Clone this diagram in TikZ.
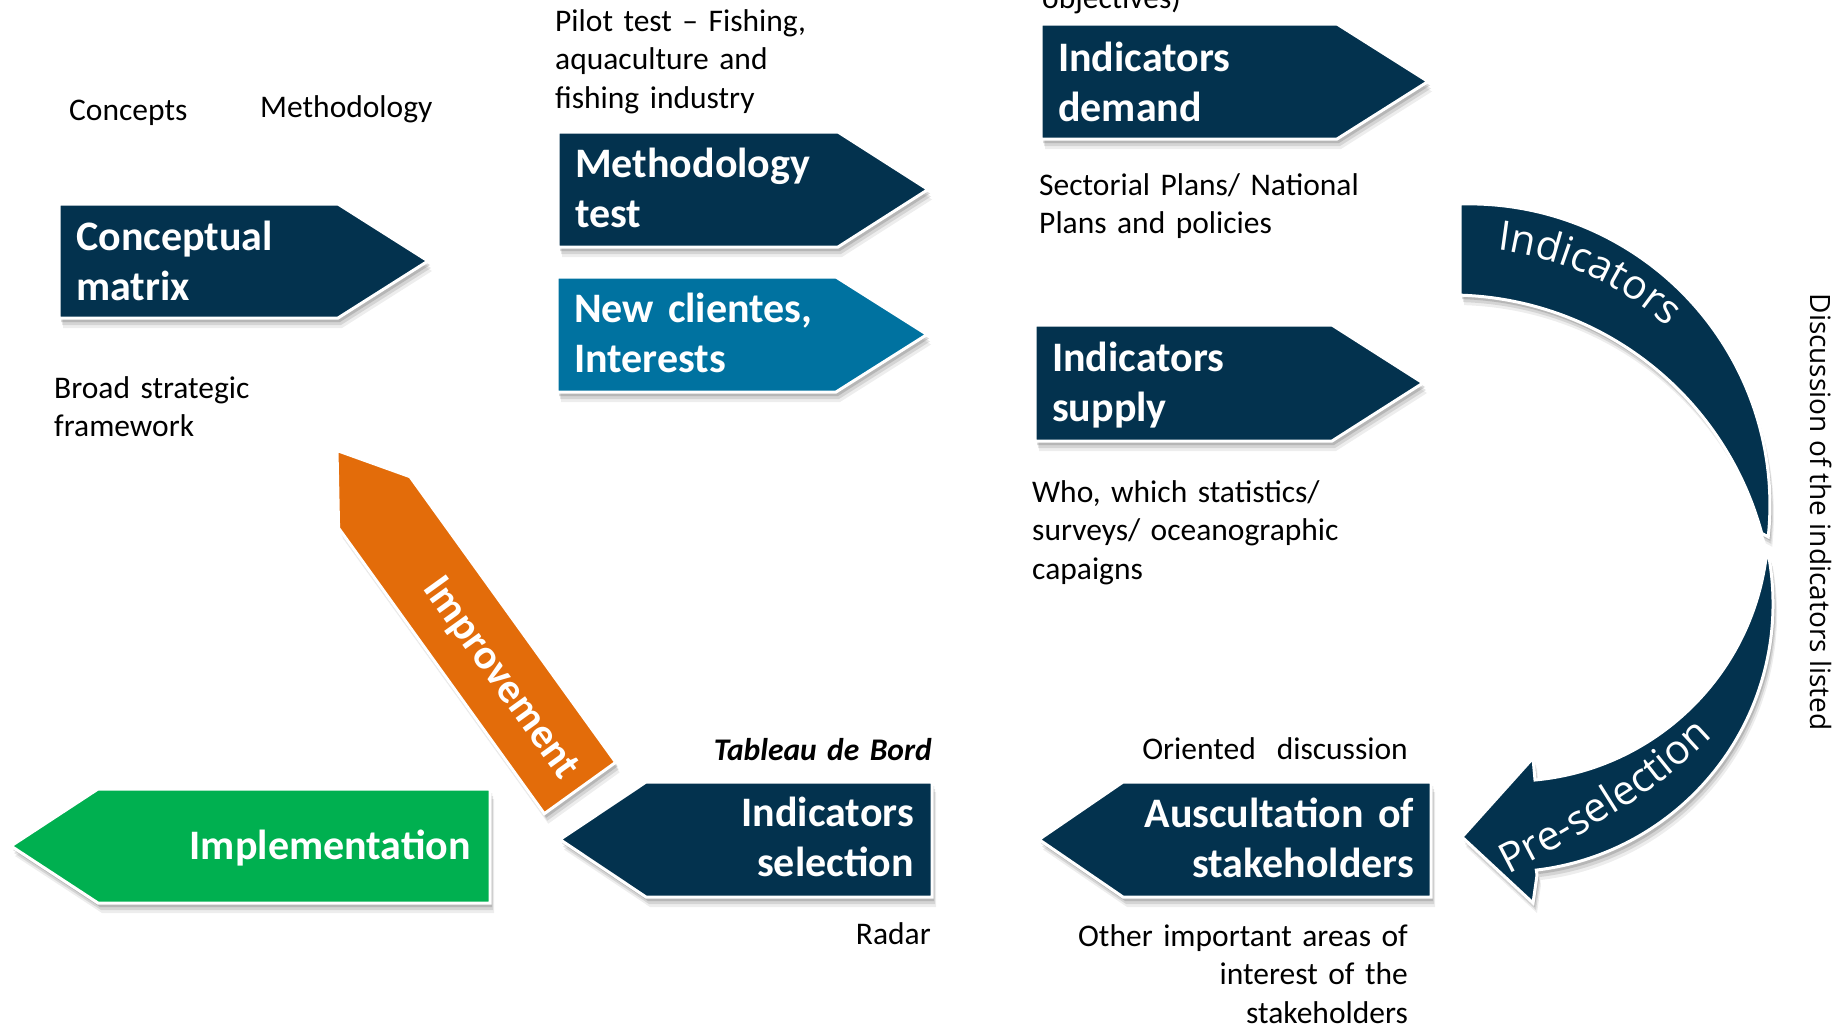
\documentclass[tikz,border=0pt]{standalone}
\usepackage{fontspec}
\setmainfont{Carlito}
\newfontfamily\osans{Open Sans}
\usetikzlibrary{shadows,decorations.text}
\definecolor{cNavy}{RGB}{3,50,78}
\definecolor{cTeal}{RGB}{0,114,160}
\definecolor{cOrange}{RGB}{227,108,10}
\definecolor{cGreen}{RGB}{0,176,80}
% right-pointing block arrow: left, top, bottom, shoulder, tip, colour
\newcommand\rArrowShape[6]{%
  \path[shp, fill=#6] (#1,#2) -- (#4,#2) -- (#5,{(#2+#3)/2}) -- (#4,#3) -- (#1,#3) -- cycle;}
% left-pointing block arrow: tip, top, bottom, shoulder, right, colour
\newcommand\lArrowShape[6]{%
  \path[shp, fill=#6] (#5,#2) -- (#4,#2) -- (#1,{(#2+#3)/2}) -- (#4,#3) -- (#5,#3) -- cycle;}
\begin{document}
\begin{tikzpicture}[x=1pt,y=-1pt,
  shp/.style={draw=white, line width=3pt, line join=miter,
    drop shadow={shadow xshift=4pt, shadow yshift=-10pt, fill=black, opacity=0.07},
    drop shadow={shadow xshift=3pt, shadow yshift=-7pt, fill=black, opacity=0.10},
    drop shadow={shadow xshift=2pt, shadow yshift=-4pt, fill=black, opacity=0.14}},
  ttl/.style={text=white, font=\fontsize{42}{50}\selectfont\bfseries, inner sep=0pt, text width=380pt},
  lbl/.style={text=black, font=\fontsize{31.5}{38.5}\selectfont, inner sep=0pt, text width=420pt},
  arctext/.style={decorate, decoration={text along path, text={|\osans\fontsize{41}{41}\selectfont\color{white}|#1}}}
]
\useasboundingbox (0,0) rectangle (1841,1028);
\fill[white] (0,0) rectangle (1841,1028);
\clip (0,0) rectangle (1841,1028);

% block arrows
\rArrowShape{59}{204}{318}{338}{428}{cNavy}
\rArrowShape{558}{132}{247}{838}{928}{cNavy}
\rArrowShape{557}{277}{392}{836}{927}{cTeal}
\rArrowShape{1041}{24}{139}{1337}{1428}{cNavy}
\rArrowShape{1035}{325}{441}{1332}{1423}{cNavy}
\lArrowShape{11}{789}{903}{98}{490}{cGreen}
\lArrowShape{560}{782}{897}{646}{932}{cNavy}
\lArrowShape{1039}{782}{897}{1123}{1431}{cNavy}

% orange improvement arrow
\path[shp, fill=cOrange] (337,450.5) -- (410,476.7) -- (615.7,762.3) -- (544.3,813.7) -- (338.6,528.1) -- cycle;

% curved pieces
\path[shp, fill=cNavy] (1460,204) arc[start angle=-91.7, end angle=6.1, radius=301]
  -- (1761.7,533.3) arc[start angle=-15.2, end angle=-88.2, radius=323] -- cycle;
\path[shp, fill=cNavy] (1537,875) -- (1533,903) -- (1462,837) -- (1533,758) -- (1535,780)
  arc[start angle=84.7, end angle=7.4, radius=257]
  -- (1768.7,556) arc[start angle=-10.3, end angle=83.3, radius=268] -- cycle;

% curved texts
\path[arctext=Indicators] (1497,250) arc[start angle=-83.2, end angle=-20, radius=309];
\path[arctext=Pre-selection] plot[smooth] coordinates {(1508,874) (1563,845) (1607,818) (1650,790) (1690,758) (1725,725) (1765,680)};

% titles
\node[ttl, anchor=base west, align=left] (tcm) at (76,250) {Conceptual\\matrix};
\node[ttl, anchor=base west, align=left] (tmt) at (575,177) {Methodology\\test};
\node[ttl, anchor=base west, align=left] (tnc) at (574,322) {New clientes,\\Interests};
\node[ttl, anchor=base west, align=left] (tid) at (1058,71) {Indicators\\demand};
\node[ttl, anchor=base west, align=left] (tis) at (1052,371) {Indicators\\supply};
\node[ttl, anchor=base east, align=right] (tim) at (471,859) {Implementation};
\node[ttl, anchor=base east, align=right] (tsel) at (914,826) {Indicators\\selection};
\node[ttl, anchor=base east, align=right] (taus) at (1414,827) {Auscultation of\\stakeholders};
\node[text=white, font=\fontsize{42}{50}\selectfont\bfseries, rotate=-54.2, inner sep=0pt] (timp) at (500,679) {Improvement};

% labels
\node[lbl, anchor=base west, align=left] (lobj) at (1042,8) {objectives)};
\node[lbl, anchor=base west, align=left] (lconc) at (69,120) {Concepts};
\node[lbl, anchor=base west, align=left] (lmeth) at (260,117) {Methodology};
\node[lbl, anchor=base west, align=left] (lpil) at (555,31) {Pilot test – Fishing,\\aquaculture and\\fishing industry};
\node[lbl, anchor=base west, align=left] (lbro) at (54,398) {Broad strategic\\framework};
\node[lbl, anchor=base west, align=left] (lsec) at (1039,195) {Sectorial Plans/ National\\Plans and policies};
\node[lbl, anchor=base west, align=left] (lwho) at (1032,502) {Who, which statistics/\\surveys/ oceanographic\\capaigns};
\node[lbl, anchor=base east, align=right, font=\fontsize{31.5}{38.5}\selectfont\bfseries\itshape] (ltab) at (932,760) {Tableau de Bord};
\node[lbl, anchor=base east, align=right] (lrad) at (931,944) {Radar};
\node[lbl, anchor=base east, align=right] (lori) at (1408,759) {Oriented\ \ discussion};
\node[lbl, anchor=base east, align=right] (loth) at (1408,946) {Other important areas of\\interest of the\\stakeholders};
\node[font=\osans\fontsize{28}{28}\selectfont, rotate=-90, inner sep=0pt] (ldisc) at (1821,512) {Discussion of the indicators listed};
\end{tikzpicture}
\end{document}
